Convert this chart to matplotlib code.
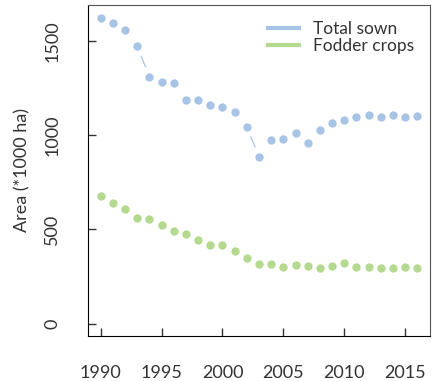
import numpy as np
import matplotlib
matplotlib.use('Agg')
import matplotlib.pyplot as plt

plt.rcParams['font.family'] = ['Lato', 'DejaVu Sans']

# data
years = np.arange(1990, 2017)
total_sown = [1622, 1595, 1555, 1472, 1309, 1284, 1275, 1184, 1187, 1157,
              1150, 1120, 1044, 883, 974, 978, 1009, 959, 1027, 1062,
              1079, 1095, 1104, 1097, 1108, 1095, 1102]
fodder = [678, 638, 608, 559, 557, 523, 491, 473, 445, 417,
          417, 385, 346, 316, 316, 299, 310, 307, 295, 306,
          320, 301, 299, 295, 297, 301, 297]
labels = ['Total sown', 'Fodder crops']
colors = ['#a7c4e6', '#b4d98f']

fig = plt.figure(figsize=(4.34, 3.81), dpi=100)
ax = fig.add_axes([0.2028, 0.1181, 0.788, 0.8688])
ax.set_xlim(1988.96, 2017.04)
ax.set_ylim(-66, 1690)


def type_b(ax, x, y, color, gap=11):
    # points plus connecting segments with a gap around each point (R type="b")
    pts = ax.transData.transform(np.column_stack([x, y]))
    inv = ax.transData.inverted()
    for p0, p1 in zip(pts[:-1], pts[1:]):
        d = p1 - p0
        L = np.hypot(*d)
        if L > 2 * gap:
            u = d / L
            a = inv.transform(p0 + u * gap)
            b = inv.transform(p1 - u * gap)
            ax.plot([a[0], b[0]], [a[1], b[1]], color=color, lw=0.9)
    ax.plot(x, y, 'o', color=color, ms=6, mew=0)


for vals, col, lab in zip([total_sown, fodder], colors, labels):
    type_b(ax, years, vals, col)
    ax.plot([], [], color=col, lw=3, label=lab)

ax.set_xticks([1990, 1995, 2000, 2005, 2010, 2015])
ax.set_yticks([0, 500, 1000, 1500])
ax.tick_params(direction='in', length=6, width=1, labelsize=13, colors='#333333')
ax.tick_params(axis='x', pad=21)
ax.tick_params(axis='y', pad=20, labelrotation=90)
for lab in ax.get_yticklabels():
    lab.set_va('center')
ax.set_ylabel('Area (*1000 ha)', fontsize=13, labelpad=10, color='#333333')

for s in ['left', 'bottom']:
    ax.spines[s].set_color('black')
for s in ['top', 'right']:
    ax.spines[s].set_color('#555555')

leg = ax.legend(loc='upper right', frameon=False, fontsize=12.5, handlelength=1.8,
                labelspacing=0.1, borderaxespad=0.5, handletextpad=0.8,
                bbox_to_anchor=(1.0, 1.0))
for t in leg.get_texts():
    t.set_color('#333333')

fig.savefig('out.png', dpi=100)
